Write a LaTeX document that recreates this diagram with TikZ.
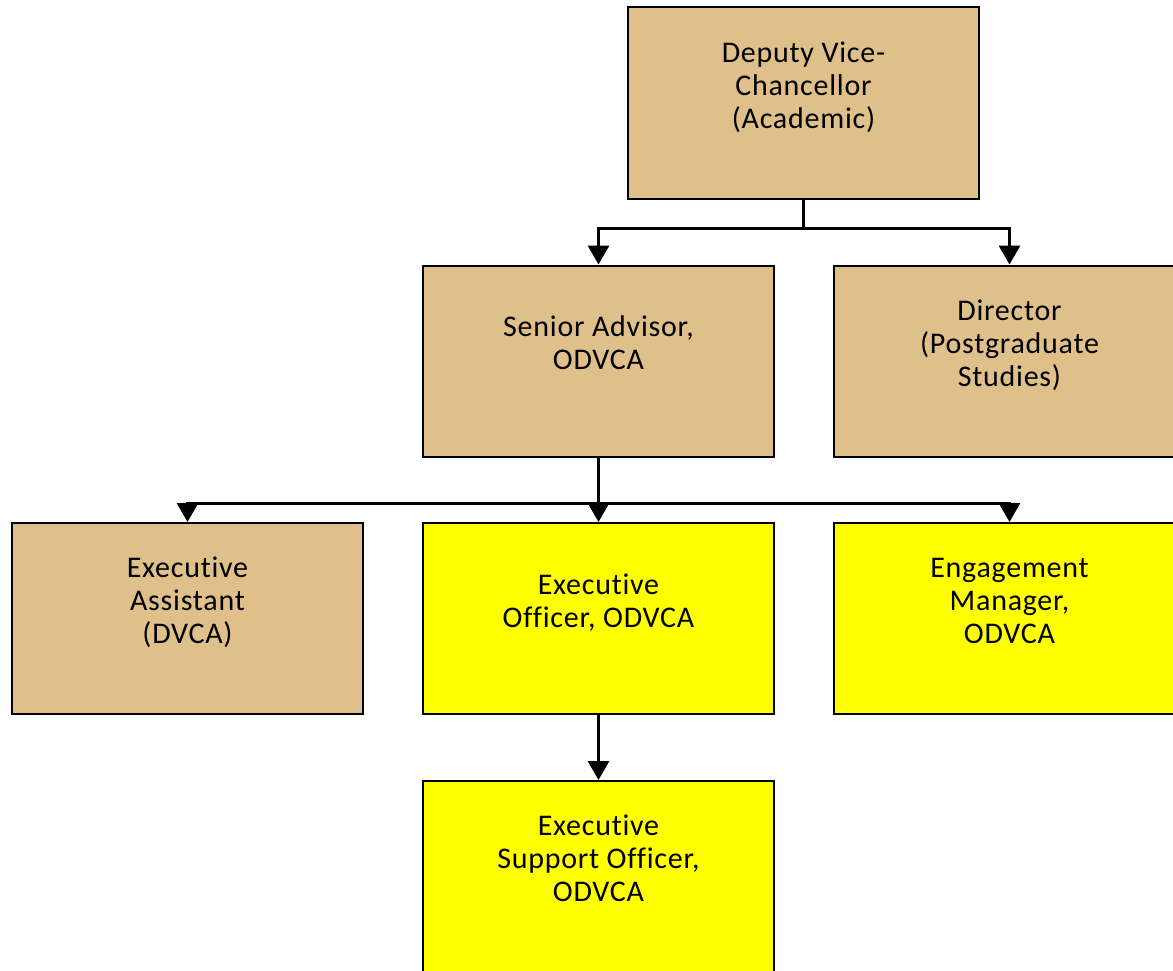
\documentclass[tikz,border=0pt]{standalone}
\usepackage{fontspec}
\setmainfont[LetterSpace=2.5, Ligatures=CommonOff]{Carlito}
\usetikzlibrary{arrows.meta}
\definecolor{sand}{HTML}{DFC08A}
\definecolor{gelb}{HTML}{FFFF00}

\begin{document}
\begin{tikzpicture}[
    x=0.75pt, y=-0.75pt,
    every node/.style={font=\fontsize{22.5}{24.75}\selectfont},
    stelle/.style={draw=black, line width=1.5pt, rectangle,
      minimum width=263.25pt, minimum height=143.25pt,
      align=center, inner sep=0pt,
      execute at end node={\rule[-27pt]{0pt}{27pt}}},
    alt/.style={stelle, fill=sand},
    neu/.style={stelle, fill=gelb},
    pfeil/.style={line width=2.25pt, -{Triangle[width=15.75pt, length=14.25pt]}},
  ]
  \useasboundingbox (0,0) rectangle (1173,970);
  \clip (0,0) rectangle (1173,970);

  % Leitung
  \node[alt] (dvca) at (803.5,103) {Deputy Vice-\\Chancellor\\(Academic)};

  % zweite Ebene
  \node[alt] (sa)  at (598.5,361)  {Senior Advisor,\\ODVCA};
  \node[alt] (dir) at (1009.5,361) {Director\\(Postgraduate\\Studies)};

  % dritte Ebene
  \node[alt] (ea) at (187.5,618.5)  {Executive\\Assistant\\(DVCA)};
  \node[neu] (eo) at (598.5,618.5)  {Executive\\Officer, ODVCA};
  \node[neu] (em) at (1009.5,618.5) {Engagement\\Manager,\\ODVCA};

  % vierte Ebene
  \node[neu] (eso) at (598.5,876.5) {Executive\\Support Officer,\\ODVCA};

  % Verbindungen
  \draw[pfeil] (dvca.south) -- ++(0,29) -| (sa.north);
  \draw[pfeil] (dvca.south) -- ++(0,29) -| (dir.north);
  \draw[pfeil] (sa.south) -- ++(0,46) -| (ea.north);
  \draw[pfeil] (sa.south) -- (eo.north);
  \draw[pfeil] (sa.south) -- ++(0,46) -| (em.north);
  \draw[pfeil] (eo.south) -- (eso.north);
\end{tikzpicture}
\end{document}
